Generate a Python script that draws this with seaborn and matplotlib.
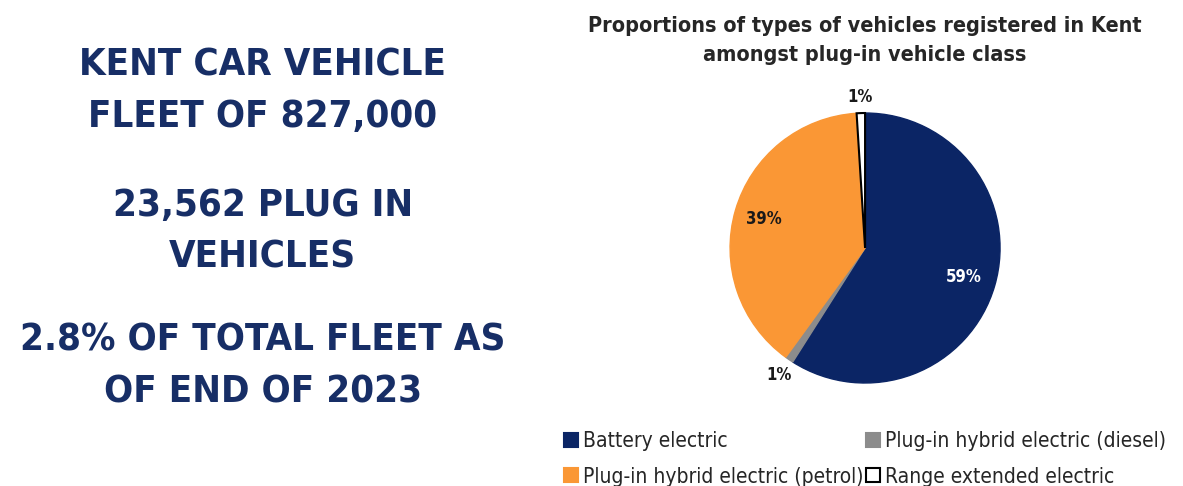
import matplotlib
matplotlib.use("Agg")
import matplotlib.pyplot as plt
from matplotlib import font_manager
from matplotlib.patches import Patch
import numpy as np
import seaborn as sns

# Headline figures
headline_lines = [
    "KENT CAR VEHICLE\nFLEET OF 827,000",
    "23,562 PLUG IN\nVEHICLES",
    "2.8% OF TOTAL FLEET AS\nOF END OF 2023",
]

# Plug-in vehicle mix (percent)
categories = [
    "Battery electric",
    "Plug-in hybrid electric (diesel)",
    "Plug-in hybrid electric (petrol)",
    "Range extended electric",
]
shares = [59, 1, 39, 1]
chart_title = "Proportions of types of vehicles registered in Kent\namongst plug-in vehicle class"

colors = ["#0B2565", "#8C8C8C", "#FA9735", "#FFFFFF"]
edges = ["#0B2565", "#8C8C8C", "#FA9735", "#000000"]
text_navy = "#172E66"

sns.set_theme(style="white")

# Prefer a narrow face for the DIN-like look
has_condensed = any(
    f.name == "DejaVu Sans" and f.stretch in ("condensed", "semi-condensed")
    for f in font_manager.fontManager.ttflist
)
plt.rcParams["font.family"] = ["DejaVu Sans"]
stretch = "condensed" if has_condensed else "normal"

fig = plt.figure(figsize=(11.83, 4.86), dpi=100)
fig.patch.set_facecolor("white")

# Left-hand headline block
ys = [0.812, 0.524, 0.246]
for y, txt in zip(ys, headline_lines):
    fig.text(0.222, y, txt, ha="center", va="center", color=text_navy,
             fontsize=27.5, fontweight="bold", fontstretch=stretch,
             linespacing=1.55)

# Pie chart
ax = fig.add_axes([0.5886, 0.1425, 0.2853, 0.6944])
wedges, texts, autotexts = ax.pie(
    shares, colors=colors, startangle=90, counterclock=False,
    autopct="%.0f%%", pctdistance=0.76,
    wedgeprops=dict(linewidth=1.0),
    textprops=dict(fontsize=12, fontweight="bold", fontstretch=stretch),
)
for w, ec in zip(wedges, edges):
    w.set_edgecolor(ec)
wedges[3].set_linewidth(1.5)

pct_dist = [0.76, 1.14, 0.78, 1.12]
for w, t, d in zip(wedges, autotexts, pct_dist):
    ang = np.deg2rad((w.theta1 + w.theta2) / 2)
    t.set_position((d * np.cos(ang), d * np.sin(ang)))
    t.set_color("#1a1a1a")
autotexts[0].set_color("white")

ax.set_xlim(-1.25, 1.25)
ax.set_ylim(-1.25, 1.25)
ax.set_aspect("equal")
ax.axis("off")

fig.text(0.731, 0.917, chart_title, ha="center", va="center",
         fontsize=15.5, fontweight="bold", color="#262626",
         fontstretch=stretch, linespacing=1.55)

# Legend laid out row by row: column-major order for matplotlib
order = [0, 2, 1, 3]
handles = [Patch(facecolor=colors[i], edgecolor=edges[i], linewidth=1.5) for i in order]
labels = [categories[i] for i in order]
fig.legend(handles, labels, loc="lower left", bbox_to_anchor=(0.461, -0.04),
           ncol=2, frameon=False, handlelength=0.65, handleheight=0.65,
           handletextpad=0.25, columnspacing=0.15, labelspacing=0.75,
           prop=dict(size=15, stretch=stretch))

fig.savefig("out.png", dpi=100, facecolor="white")
